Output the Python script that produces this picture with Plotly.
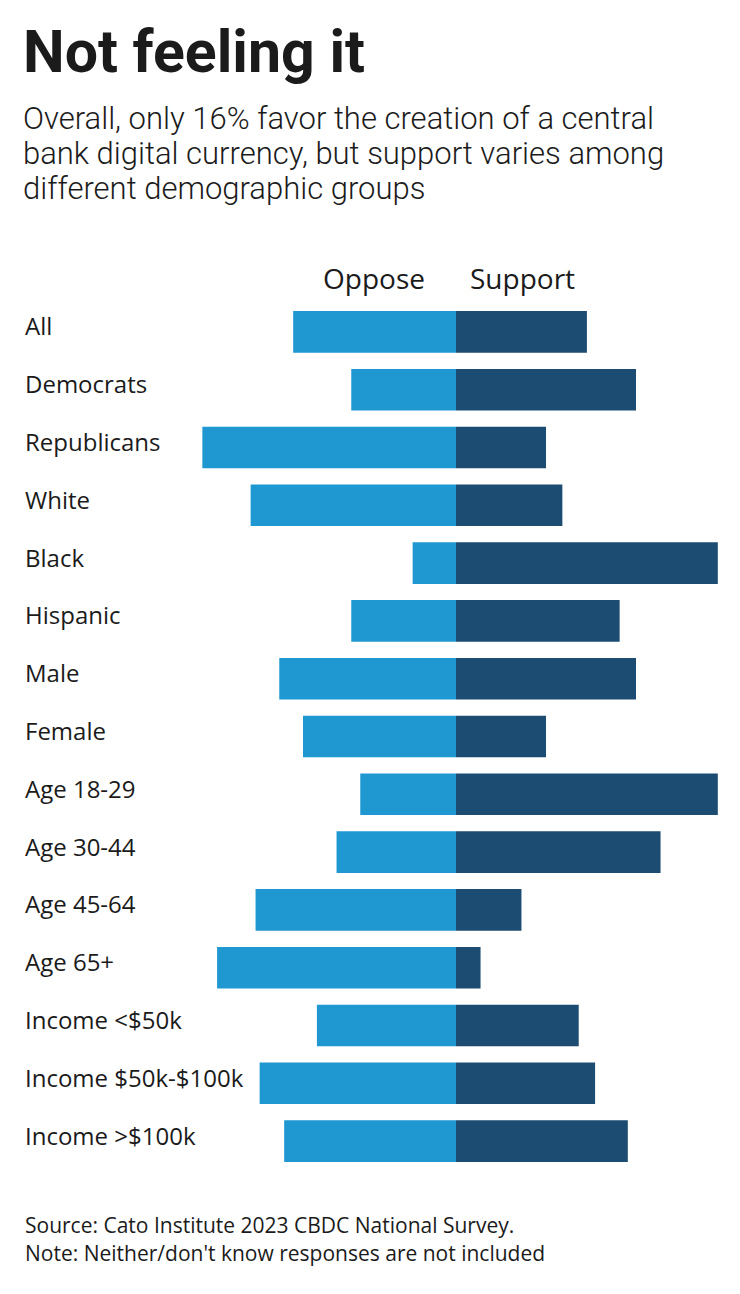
import plotly.graph_objects as go

# ---- data (units are percent) ----
categories = ["All", "Democrats", "Republicans", "White", "Black", "Hispanic",
              "Male", "Female", "Age 18-29", "Age 30-44", "Age 45-64", "Age 65+",
              "Income <$50k", "Income $50k-$100k", "Income >$100k"]
oppose = [19.9, 12.8, 31.0, 25.1, 5.3, 12.8, 21.6, 18.7, 11.7, 14.6, 24.5, 29.2, 17.0, 24.0, 21.0]
support = [16.0, 22.0, 11.0, 13.0, 32.0, 20.0, 22.0, 11.0, 32.0, 25.0, 8.0, 3.0, 15.0, 17.0, 21.0]

series_names = ["Oppose", "Support"]
title_text = "Not feeling it"
subtitle_lines = ["Overall, only 16% favor the creation of a central",
                  "bank digital currency, but support varies among",
                  "different demographic groups"]
footer_lines = ["Source: Cato Institute 2023 CBDC National Survey.",
                "Note: Neither/don't know responses are not included"]

# ---- layout constants (page pixels; page body has an 8px margin) ----
OFF = 8
PAGE_W, PAGE_H = 740, 1294
W, H = PAGE_W - OFF, PAGE_H - OFF
# plot area in page pixels
PL, PR, PT, PB = 186, 726, 303, 1170
ML, MR, MT, MB = PL - OFF, W - (PR - OFF), PT - OFF, H - (PB - OFF)
PW, PH = PR - PL, PB - PT
XR = 33

LIGHT = "#1f97d1"
DARK = "#1c4c72"
INK = "#1b1b1b"
LABEL_FONT = "Open Sans, Noto Sans, sans-serif"
HEAD_FONT = "Roboto, Noto Sans, sans-serif"


def px2x(px):
    return (px - PL) / PW


def py2y(py):
    return (PB - py) / PH


fig = go.Figure()
fig.add_trace(go.Bar(
    y=categories, x=[-v for v in oppose], orientation="h", name=series_names[0],
    marker=dict(color=LIGHT, line=dict(width=0)), hoverinfo="skip"))
fig.add_trace(go.Bar(
    y=categories, x=support, orientation="h", name=series_names[1],
    marker=dict(color=DARK, line=dict(width=0)), hoverinfo="skip"))

annotations = []
# category labels, left aligned
for c in categories:
    annotations.append(dict(
        text=c, xref="paper", x=px2x(23), xanchor="left",
        yref="y", y=c, yanchor="middle", yshift=6, showarrow=False,
        font=dict(family=LABEL_FONT, size=24, color=INK)))

# column headers
annotations.append(dict(
    text=series_names[0], xref="x", x=-3.5, xanchor="right",
    yref="paper", y=py2y(278), yanchor="middle", showarrow=False,
    font=dict(family=LABEL_FONT, size=28, color=INK)))
annotations.append(dict(
    text=series_names[1], xref="x", x=1.5, xanchor="left",
    yref="paper", y=py2y(278), yanchor="middle", showarrow=False,
    font=dict(family=LABEL_FONT, size=28, color=INK)))

# title
annotations.append(dict(
    text="<b>" + title_text + "</b>", xref="paper", x=px2x(21), xanchor="left",
    yref="paper", y=py2y(51), yanchor="middle", showarrow=False,
    font=dict(family=HEAD_FONT, size=59, color=INK)))
# subtitle
for i, line in enumerate(subtitle_lines):
    annotations.append(dict(
        text=line, xref="paper", x=px2x(21), xanchor="left",
        yref="paper", y=py2y(118 + 35 * i), yanchor="middle", showarrow=False,
        font=dict(family=HEAD_FONT, size=31, weight=300, color=INK)))
# footer
for i, line in enumerate(footer_lines):
    annotations.append(dict(
        text=line, xref="paper", x=px2x(23), xanchor="left",
        yref="paper", y=py2y(1225 + 28 * i), yanchor="middle", showarrow=False,
        font=dict(family=LABEL_FONT, size=21, color=INK)))

fig.update_layout(
    width=W, height=H,
    margin=dict(l=ML, r=MR, t=MT, b=MB, pad=0),
    paper_bgcolor="white", plot_bgcolor="white",
    barmode="relative", bargap=0.28,
    showlegend=False,
    xaxis=dict(range=[-XR, XR], showgrid=False, zeroline=False,
               showticklabels=False, showline=False, fixedrange=True),
    yaxis=dict(categoryorder="array", categoryarray=categories,
               range=[len(categories) - 0.5, -0.5], showgrid=False,
               zeroline=False, showticklabels=False, showline=False,
               fixedrange=True),
    annotations=annotations,
)

fig.write_html("out.html", config={"displayModeBar": False})
